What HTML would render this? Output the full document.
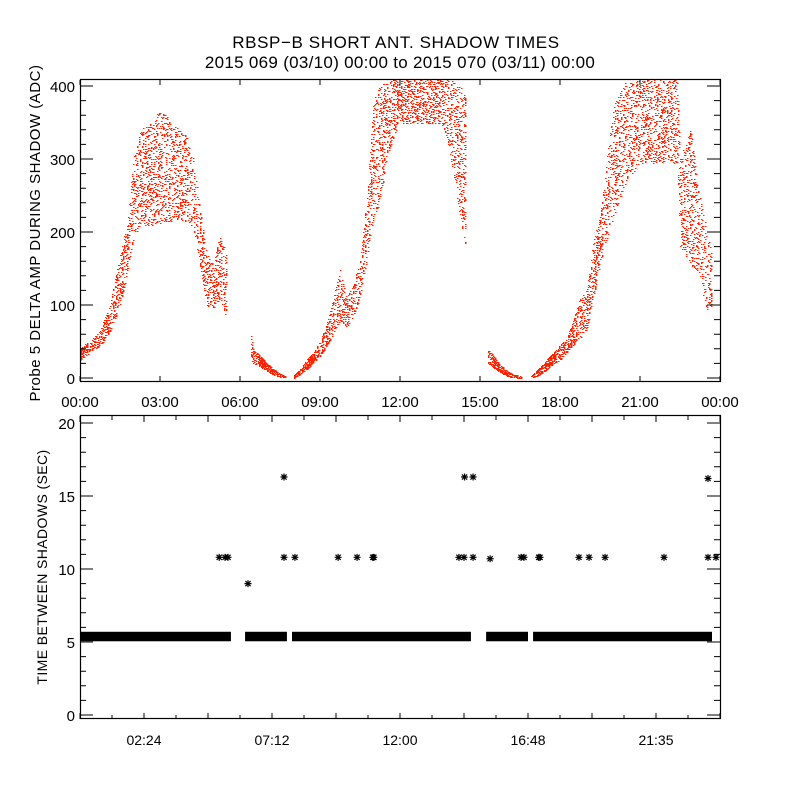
<!DOCTYPE html>
<html><head><meta charset="utf-8"><style>
html,body{margin:0;padding:0;background:#fff;}
svg{display:block;font-family:"Liberation Sans",sans-serif;}
</style></head><body>
<svg id="chart" width="800" height="800" viewBox="0 0 800 800">
<rect width="800" height="800" fill="#fff"/>
<text x="396" y="48" text-anchor="middle" font-size="17" letter-spacing="0.6">RBSP−B SHORT ANT. SHADOW TIMES</text>
<text x="400" y="68" text-anchor="middle" font-size="17" letter-spacing="0.3">2015 069 (03/10) 00:00 to 2015 070 (03/11) 00:00</text>
<g id="topPanel"></g>
<g id="botPanel"></g>
<text transform="translate(40,233) rotate(-90)" text-anchor="middle" font-size="15" letter-spacing="0.5">Probe 5 DELTA AMP DURING SHADOW (ADC)</text>
<text transform="translate(47,567) rotate(-90)" text-anchor="middle" font-size="14" letter-spacing="0.4">TIME BETWEEN SHADOWS (SEC)</text>
</svg>
<script>
// top panel envelope data: hour, low ADC, high ADC (per segment)
const seg1Hours=[0,0.25,0.5,0.75,1,1.25,1.5,1.75,2,2.25,2.5,2.75,3,3.25,3.5,3.75,4,4.25,4.5,4.75,5,5.25,5.5];
const seg1Low=[25,32,38,45,55,75,100,140,190,210,210,210,210,215,215,215,215,205,150,100,95,110,80];
const seg1High=[40,48,55,65,90,125,170,210,300,340,345,350,375,360,345,340,330,300,230,170,155,200,170];
const seg2Hours=[6.4,6.5,6.75,7,7.25,7.5,7.7];
const seg2Low=[25,20,16,10,5,2,0];
const seg2High=[60,38,30,20,12,6,2];
const seg3Hours=[8,8.25,8.5,8.75,9,9.25,9.5,9.75,10,10.25,10.5,10.75,11,11.25,11.5,11.75,12,12.5,13,13.5,13.75,14,14.25,14.45];
const seg3Low=[0,5,12,22,30,45,60,80,70,85,110,160,220,240,300,330,350,350,350,350,330,280,220,180];
const seg3High=[3,12,25,35,50,75,110,150,110,130,160,250,380,400,405,408,408,408,408,408,408,408,400,390];
const seg4Hours=[15.28,15.5,15.75,16,16.25,16.55];
const seg4Low=[20,15,8,3,1,0];
const seg4High=[40,30,18,10,5,2];
const seg5Hours=[16.9,17.25,17.5,17.75,18,18.25,18.5,18.75,19,19.25,19.5,19.75,20,20.5,21,21.5,22,22.4,22.5,22.9,23.25,23.5,23.7];
const seg5Low=[0,5,12,20,25,35,45,55,65,110,157,190,221,271,294,294,294,294,180,157,134,88,100];
const seg5High=[2,15,25,35,45,55,80,110,120,190,221,300,372,408,408,408,408,408,303,340,248,202,170];
// bottom panel: band segments (hours) and outlier asterisks
const bandStart=[0,6.19,7.95,15.23,16.99];
const bandEnd=[5.66,7.76,14.66,16.8,23.7];
const starHours=[5.22,5.44,5.55,6.3,7.65,7.65,8.06,9.68,10.39,10.98,11.02,14.21,14.4,14.42,14.74,14.74,15.38,16.54,16.65,17.2,17.25,18.71,19.09,19.69,21.9,23.55,23.55,23.85];
const starValues=[10.8,10.8,10.8,9.0,16.3,10.8,10.8,10.8,10.8,10.8,10.8,10.8,10.8,16.3,10.8,16.3,10.7,10.8,10.8,10.8,10.8,10.8,10.8,10.8,10.8,16.2,10.8,10.8];
const topTickLabels=["00:00","03:00","06:00","09:00","12:00","15:00","18:00","21:00","00:00"];
const topYLabels=["0","100","200","300","400"];
const botTickLabels=["02:24","07:12","12:00","16:48","21:35"];
const botYLabels=["0","5","10","15","20"];

const NS="http://www.w3.org/2000/svg";
const L=80,R=720;
const xH=h=>L+h*(R-L)/24;
const yT=v=>378-v*0.73;
const yB=v=>715-v*14.6;
function mk(tag,attrs,parent){const e=document.createElementNS(NS,tag);for(const k in attrs)e.setAttribute(k,attrs[k]);parent.appendChild(e);return e;}
const topG=document.getElementById('topPanel'),botG=document.getElementById('botPanel');

function hsh(a,b){let h=(a*374761393+b*668265263)|0;h=(h^(h>>>13))*1274126177|0;h=h^(h>>>16);return ((h>>>0)%1000)/1000;}
let d="";
function stipple(hs,lo,hi){
  for(let i=0;i<hs.length-1;i++){
    const x0=xH(hs[i]),x1=xH(hs[i+1]);
    for(let x=Math.ceil(x0);x<x1;x++){
      const t=(x-x0)/(x1-x0);
      const vl=lo[i]+(lo[i+1]-lo[i])*t, vh=hi[i]+(hi[i+1]-hi[i])*t;
      const ya=Math.round(yT(vh)), yb=Math.round(yT(vl));
      const span=yb-ya;
      const p=span<12?0.75:(span<30?0.4:(span<60?0.25:0.17));
      for(let y=Math.max(ya,80);y<=yb;y++){
        if(hsh(x,y)<p) d+="M"+x+" "+y+"h1.5v1h-1.5z";
      }
    }
  }
}
stipple(seg1Hours,seg1Low,seg1High);
stipple(seg2Hours,seg2Low,seg2High);
stipple(seg3Hours,seg3Low,seg3High);
stipple(seg4Hours,seg4Low,seg4High);
stipple(seg5Hours,seg5Low,seg5High);
const pts=mk('path',{d:d,fill:'#ff2200'},topG);



const f1=mk('rect',{x:80.5,y:79.5,width:640,height:302,fill:'none',stroke:'#000','stroke-width':1.2},topG);


let tk="";
for(let i=0;i<=8;i++){const x=xH(i*3);tk+=`M${x} 381v-5M${x} 80v5`;}
for(let v=0;v<=400;v+=20){const y=yT(v);const len=v%100===0?13:6;tk+=`M80 ${y}h${len}M720 ${y}h-${len}`;}
const tkp=mk('path',{d:tk,stroke:'#000','stroke-width':1,fill:'none'},topG);


topTickLabels.forEach((s,i)=>{const t=mk('text',{x:xH(i*3),y:407,'text-anchor':'middle','font-size':15},topG);t.textContent=s;

});
topYLabels.forEach((s,i)=>{const t=mk('text',{x:75,y:yT(i*100)+6,'text-anchor':'end','font-size':15},topG);t.textContent=s;

});

bandStart.forEach((s,i)=>{const r=mk('rect',{x:xH(s),y:yB(5.7),width:xH(bandEnd[i])-xH(s),height:yB(5.05)-yB(5.7),fill:'#000'},botG);

});
starHours.forEach((h,i)=>{const x=xH(h),y=yB(starValues[i]),a=3.5,b=2.6;
const p=mk('path',{d:`M${x-a} ${y}h${2*a}M${x} ${y-a}v${2*a}M${x-b} ${y-b}l${2*b} ${2*b}M${x-b} ${y+b}l${2*b} ${-2*b}`,stroke:'#000','stroke-width':1.2},botG);

});
const f2=mk('rect',{x:80.5,y:415.5,width:640,height:303,fill:'none',stroke:'#000','stroke-width':1.2},botG);


let tb="";
for(let i=0;i<=20;i++){const x=xH(i*1.2);const len=i%2===0?6:4;tb+=`M${x} 719v-${len}M${x} 416v${len}`;}
for(let v=0;v<=20;v++){const y=yB(v);const len=v%5===0?13:6;tb+=`M80 ${y}h${len}M720 ${y}h-${len}`;}
const tbp=mk('path',{d:tb,stroke:'#000','stroke-width':1,fill:'none'},botG);


botTickLabels.forEach((s,i)=>{const t=mk('text',{x:xH(2.4+i*4.8),y:745,'text-anchor':'middle','font-size':14},botG);t.textContent=s;

});
botYLabels.forEach((s,i)=>{const t=mk('text',{x:75,y:yB(i*5)+6,'text-anchor':'end','font-size':15},botG);t.textContent=s;

});
</script>
</body></html>
